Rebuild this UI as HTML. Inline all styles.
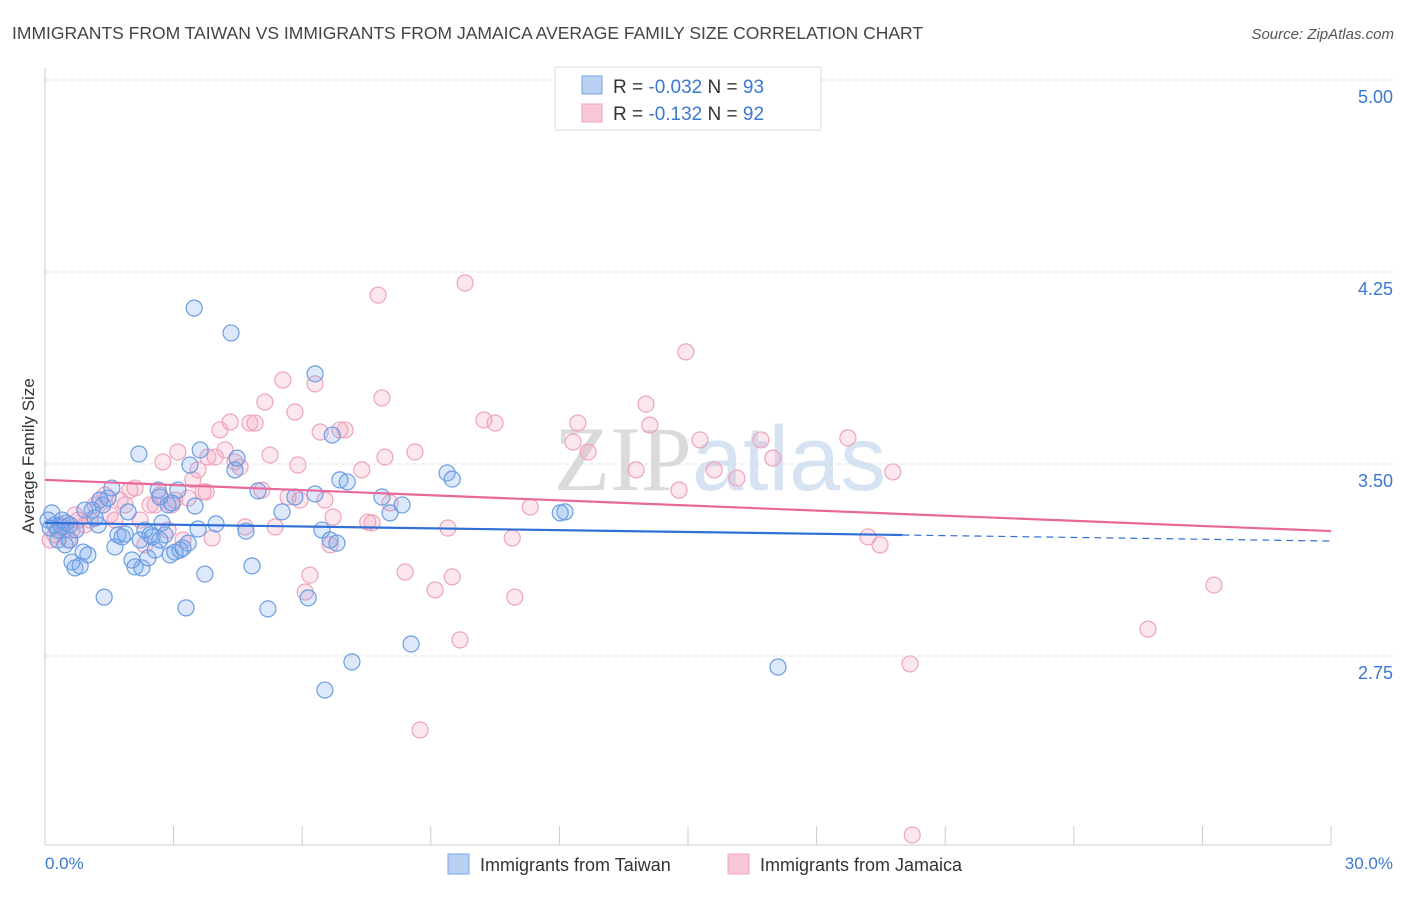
<!DOCTYPE html>
<html><head><meta charset="utf-8"><style>
body{margin:0;background:#fff;font-family:"Liberation Sans",sans-serif}
svg text{font-family:"Liberation Sans",sans-serif}
</style></head><body>
<svg id="chart" width="1406" height="892" xmlns="http://www.w3.org/2000/svg">
<text x="12" y="39" font-size="17.5" fill="#444">IMMIGRANTS FROM TAIWAN VS IMMIGRANTS FROM JAMAICA AVERAGE FAMILY SIZE CORRELATION CHART</text>
<text x="1394" y="39" font-size="15" fill="#555" text-anchor="end" font-style="italic">Source: ZipAtlas.com</text>
<g id="grid"></g>
<text x="720" y="490" font-size="92" text-anchor="middle" fill="#ddd" opacity="0.7"><tspan font-family="Liberation Serif" fill="#ccc">ZIP</tspan><tspan fill="#c5d8ef">atlas</tspan></text>
<g id="axes"></g>
<g id="pts"></g>
<g id="trends"></g>
<text transform="translate(34,456) rotate(-90)" font-size="17" fill="#333" text-anchor="middle">Average Family Size</text>
<text x="45" y="869" font-size="17" fill="#3a78d4">0.0%</text>
<text x="1393" y="869" font-size="17" fill="#3a78d4" text-anchor="end">30.0%</text>
<g>
<rect x="555" y="67" width="266" height="63" fill="#fff" stroke="#ddd"/>
<rect x="582" y="76" width="20" height="18" fill="#b9d0f3" stroke="#7aa6e6"/>
<rect x="582" y="104" width="20" height="18" fill="#f8c8d8" stroke="#eea3bc"/>
<text x="613" y="93" font-size="19" fill="#333">R = <tspan fill="#3a78d4">-0.032</tspan>   N = <tspan fill="#3a78d4">93</tspan></text>
<text x="613" y="120" font-size="19" fill="#333">R =  <tspan fill="#3a78d4">-0.132</tspan>   N = <tspan fill="#3a78d4">92</tspan></text>
</g>
<g>
<rect x="448" y="854" width="21" height="20" fill="#b9d0f3" stroke="#7aa6e6"/>
<text x="480" y="871" font-size="18" fill="#333">Immigrants from Taiwan</text>
<rect x="728" y="854" width="21" height="20" fill="#f8c8d8" stroke="#eea3bc"/>
<text x="760" y="871" font-size="18" fill="#333">Immigrants from Jamaica</text>
</g>
</svg>
<script>
const yTicks=[5.00,4.25,3.50,2.75];
const xTickCount=10;
const taiwanX=[.16,.23,.30,.40,.49,.58,.63,.70,.82,.89,1.00,1.10,1.17,1.24,1.35,1.38,1.47,1.56,1.63,1.70,1.80,1.87,1.94,2.03,2.10,2.19,2.26,2.33,2.40,2.45,2.50,2.57,2.64,2.68,2.73,2.80,2.87,2.92,2.96,3.03,3.10,3.15,3.22,3.29,3.34,3.38,3.48,3.50,3.57,3.62,3.73,3.99,4.34,4.43,4.48,4.69,4.83,4.97,5.20,5.53,5.83,6.14,6.30,6.30,6.46,6.53,6.65,6.70,6.81,6.88,7.05,7.16,7.86,8.05,8.33,8.54,9.38,9.50,12.02,12.13,17.10,.07,.12,.30,.47,.58,.72,.40,.93,1.28,2.22,2.68];
const taiwanY=[3.309,3.262,3.242,3.254,3.270,3.203,3.117,3.094,3.102,3.156,3.145,3.320,3.289,3.262,3.340,2.980,3.367,3.406,3.176,3.223,3.215,3.227,3.313,3.125,3.098,3.539,3.094,3.242,3.133,3.223,3.215,3.164,3.398,3.371,3.270,3.223,3.340,3.145,3.348,3.156,3.398,3.164,3.172,2.938,3.191,3.496,4.109,3.336,3.246,3.555,3.070,3.266,4.012,3.477,3.523,3.238,3.102,3.395,2.934,3.313,3.371,2.977,3.383,3.852,3.242,2.617,3.203,3.613,3.191,3.438,3.430,2.727,3.371,3.309,3.340,2.797,3.465,3.441,3.309,3.313,2.707,3.281,3.250,3.203,3.184,3.262,3.242,3.281,3.320,3.359,3.203,3.203];
const jamaicaX=[.12,.23,.35,.47,.54,.63,.70,.77,.93,1.05,1.17,1.28,1.40,1.52,1.63,1.75,1.87,1.98,2.10,2.22,2.33,2.45,2.57,2.68,2.75,2.87,2.96,3.03,3.10,3.22,3.34,3.45,3.57,3.69,3.76,3.80,3.90,3.97,4.08,4.20,4.32,4.43,4.55,4.67,4.78,4.90,5.06,5.13,5.25,5.37,5.55,5.67,5.83,5.90,5.95,6.07,6.18,6.30,6.42,6.53,6.65,6.72,6.88,7.00,7.39,7.53,7.63,7.77,7.86,7.93,8.05,8.40,8.63,8.75,9.10,9.40,9.50,9.68,9.80,10.24,10.50,10.90,10.96,11.32,12.32,12.43,12.67,13.79,14.02,14.11,14.79,14.95,15.28,15.61,16.14,16.70,16.98,18.73,19.20,19.48,19.78,20.18,20.23,25.73,27.27];
const jamaicaY=[3.203,3.223,3.262,3.242,3.203,3.242,3.301,3.281,3.262,3.281,3.340,3.359,3.379,3.301,3.281,3.359,3.340,3.398,3.406,3.281,3.184,3.340,3.340,3.379,3.508,3.242,3.340,3.359,3.547,3.203,3.367,3.438,3.477,3.391,3.391,3.527,3.211,3.527,3.633,3.555,3.664,3.508,3.488,3.254,3.660,3.660,3.398,3.742,3.535,3.254,3.828,3.371,3.703,3.496,3.359,3.000,3.066,3.813,3.625,3.359,3.184,3.293,3.633,3.633,3.477,3.273,3.270,4.160,3.758,3.527,3.348,3.078,3.547,2.461,3.008,3.250,3.059,2.813,4.207,3.672,3.660,3.211,2.980,3.332,3.586,3.660,3.547,3.477,3.734,3.652,3.398,3.938,3.594,3.477,3.445,3.594,3.523,3.602,3.215,3.184,3.469,2.719,2.051,2.855,3.027];
const taiwanTrend=[3.270,3.199];
const jamaicaTrend=[3.438,3.238];
const taiwanSolidEnd=20;

const X0=45,X1=1331,XMAX=30,Y5=80,PX=256;
const sx=v=>X0+(v/XMAX)*(X1-X0);
const sy=v=>Y5+(5-v)*PX;
const NS="http://www.w3.org/2000/svg";
function mk(t,a,p){const e=document.createElementNS(NS,t);for(const k in a)e.setAttribute(k,a[k]);p.appendChild(e);return e;}
const grid=document.getElementById('grid'),axes=document.getElementById('axes');
yTicks.forEach(v=>{
 const l=mk('line',{x1:X0,x2:1394,y1:sy(v),y2:sy(v),stroke:'#ddd','stroke-dasharray':'4,4'},grid);
 
 
 const t=mk('text',{x:1393,y:sy(v)+23,'font-size':18,fill:'#3a78d4','text-anchor':'end'},axes);
 t.textContent=v.toFixed(2);
 
 
});
const ax=mk('line',{x1:X0,x2:X0,y1:68,y2:845,stroke:'#ccc'},axes);


const bx=mk('line',{x1:X0,x2:X1,y1:845,y2:845,stroke:'#ccc'},axes);


for(let i=0;i<=xTickCount;i++){
 const tk=mk('line',{x1:sx(i*XMAX/xTickCount),x2:sx(i*XMAX/xTickCount),y1:826,y2:845,stroke:'#ccc'},axes);
 
 
}
const pts=document.getElementById('pts');
function plot(xs,ys,fill,stroke,name){
 xs.forEach((x,i)=>{
  const c=mk('circle',{cx:sx(x),cy:sy(ys[i]),r:8,fill:fill,stroke:stroke,'stroke-width':1.2},pts);
  
  
 });
}
plot(jamaicaX,jamaicaY,'rgba(244,160,188,0.25)','#eea3bc','point-jamaica');
plot(taiwanX,taiwanY,'rgba(120,165,235,0.25)','#6b9de3','point-taiwan');
const tr=document.getElementById('trends');
const tAt=x=>taiwanTrend[0]+(taiwanTrend[1]-taiwanTrend[0])*x/XMAX;
const l1=mk('line',{x1:sx(0),y1:sy(tAt(0)),x2:sx(taiwanSolidEnd),y2:sy(tAt(taiwanSolidEnd)),stroke:'#2f6fd6','stroke-width':2.2},tr);


const l2=mk('line',{x1:sx(taiwanSolidEnd),y1:sy(tAt(taiwanSolidEnd)),x2:sx(XMAX),y2:sy(tAt(XMAX)),stroke:'#2f6fd6','stroke-width':1.2,'stroke-dasharray':'7,5'},tr);


const l3=mk('line',{x1:sx(0),y1:sy(jamaicaTrend[0]),x2:sx(XMAX),y2:sy(jamaicaTrend[1]),stroke:'#e8689a','stroke-width':2.2},tr);


</script>
</body></html>
